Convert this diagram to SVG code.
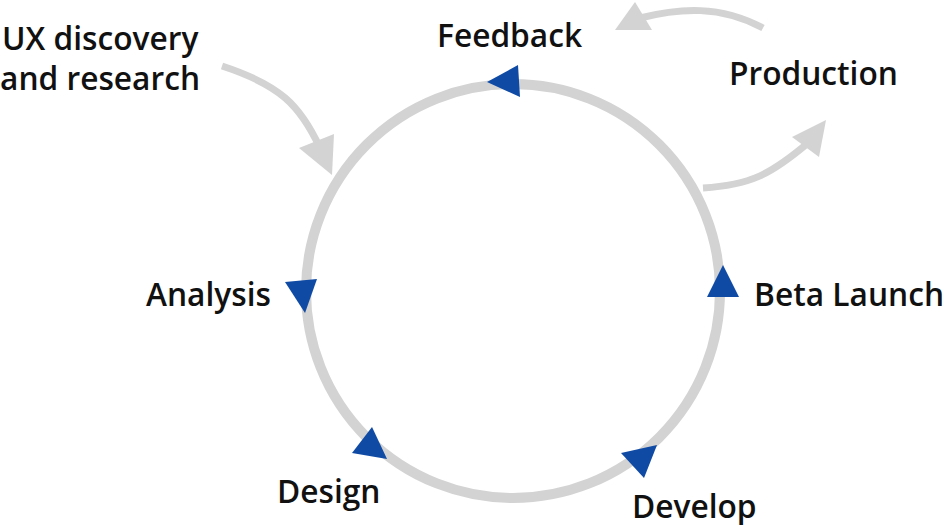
<svg xmlns="http://www.w3.org/2000/svg" width="944" height="525" viewBox="0 0 944 525">
<style>
.lbl{font-family:"Open Sans","Noto Sans",sans-serif;font-weight:600;font-size:31.7px;fill:#111}
.flow{fill:none;stroke:#d3d3d3;stroke-width:7}
.head{fill:#d3d3d3}
.tri{fill:#0f4aa5}
</style>
<rect width="944" height="525" fill="#fff"/>
<g id="connectors">
<circle cx="513" cy="291" r="207" fill="none" stroke="#d3d3d3" stroke-width="10"/>
<path class="flow" d="M763,28 C720,5 680,8 640,18"/>
<polygon class="head" points="615,30 635,2 652,30"/>
<path class="flow" d="M703,188 C750,185 770,175 808,143"/>
<polygon class="head" points="826,120 792,137 819,157"/>
<path class="flow" d="M222,66 C280,85 300,105 320,148"/>
<polygon class="head" points="299,148 334,134 332,175"/>
<polygon class="tri" points="487,82 518,65 520,97"/>
<polygon class="tri" points="285,282 317,279 305,313"/>
<polygon class="tri" points="372,427 352,453 387,459"/>
<polygon class="tri" points="621,453 657,445 644,478"/>
<polygon class="tri" points="723,265 707,297 739,297"/>
</g>
<g id="feedback"><text class="lbl" x="437" y="47">Feedback</text></g>
<g id="ux"><text class="lbl" x="2" y="50">UX discovery</text><text class="lbl" x="0" y="90">and research</text></g>
<g id="production"><text class="lbl" x="729" y="85">Production</text></g>
<g id="beta"><text class="lbl" x="754" y="306">Beta Launch</text></g>
<g id="analysis"><text class="lbl" x="146" y="306">Analysis</text></g>
<g id="design"><text class="lbl" x="277" y="503">Design</text></g>
<g id="develop"><text class="lbl" x="632" y="518">Develop</text></g>
</svg>
